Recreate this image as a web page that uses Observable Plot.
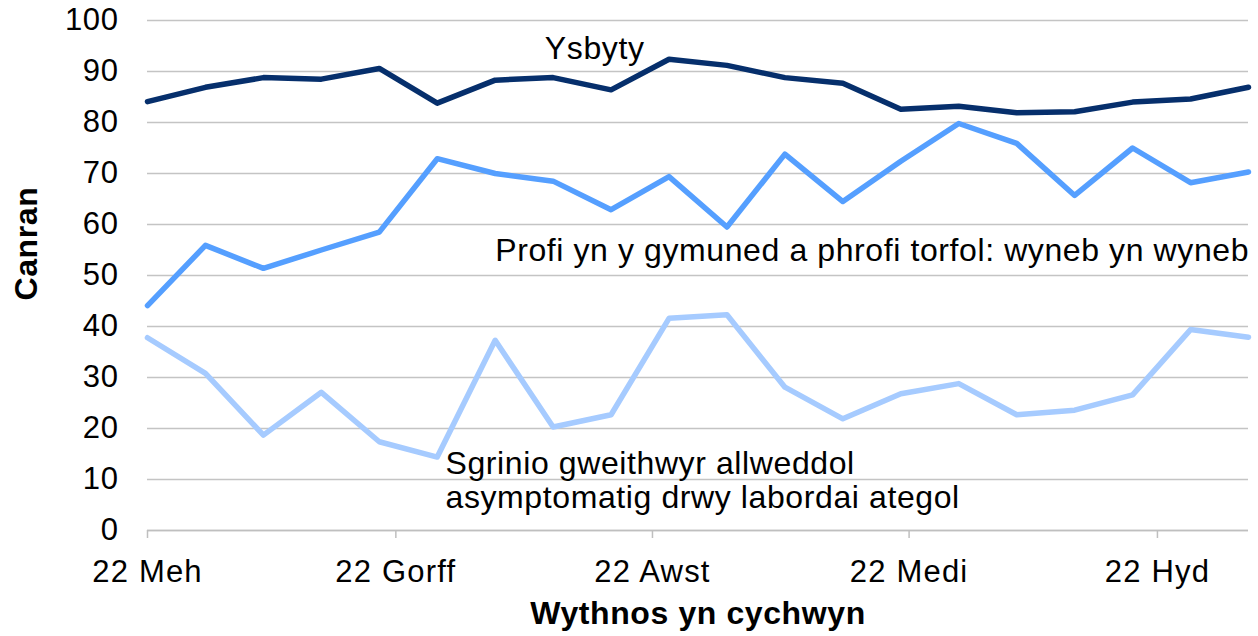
<!DOCTYPE html>
<html>
<head>
<meta charset="utf-8">
<script src="https://cdn.jsdelivr.net/npm/d3@7"></script>
<script src="https://cdn.jsdelivr.net/npm/@observablehq/plot@0.6"></script>
<style>
  html, body { margin: 0; padding: 0; background: #fff; }
  svg text { letter-spacing: 0.6px; }
  svg g[aria-label="x-axis tick label"] text { letter-spacing: 1.2px; }
</style>
</head>
<body>
<div id="chart"></div>
<script>
// Week starting dates
const dates = ["2020-06-22","2020-06-29","2020-07-06","2020-07-13","2020-07-20","2020-07-27",
  "2020-08-03","2020-08-10","2020-08-17","2020-08-24","2020-08-31","2020-09-07","2020-09-14",
  "2020-09-21","2020-09-28","2020-10-05","2020-10-12","2020-10-19","2020-10-26","2020-11-02"];

// Series values (per cent)
const ysbyty = [84.1, 86.9, 88.8, 88.5, 90.6, 83.8, 88.3, 88.8, 86.4, 92.4,
  91.2, 88.8, 87.7, 82.6, 83.2, 81.9, 82.1, 84.0, 84.6, 86.9];
const profi = [44.1, 55.9, 51.4, 55.0, 58.5, 72.9, 70.0, 68.5, 62.9, 69.4,
  59.5, 73.8, 64.5, 72.4, 79.8, 75.9, 65.7, 75.0, 68.2, 70.3];
const sgrinio = [37.8, 30.8, 18.7, 27.1, 17.4, 14.4, 37.3, 20.3, 22.7, 41.6,
  42.3, 28.1, 21.9, 26.8, 28.8, 22.7, 23.6, 26.6, 39.4, 37.9];

// Axis ticks
const yTicks = [0, 10, 20, 30, 40, 50, 60, 70, 80, 90, 100];
const xTickDates = ["2020-06-22", "2020-07-22", "2020-08-22", "2020-09-22", "2020-10-22"];
const xTickLabels = ["22 Meh", "22 Gorff", "22 Awst", "22 Medi", "22 Hyd"];

// Titles
const yTitle = "Canran";
const xTitle = "Wythnos yn cychwyn";

// Series labels (annotation anchor in data units)
const seriesLabels = [
  {text: "Ysbyty", date: "2020-08-09", value: 94.5},
  {text: "Profi yn y gymuned a phrofi torfol: wyneb yn wyneb", date: "2020-08-03", value: 54.9},
  {text: "Sgrinio gweithwyr allweddol", date: "2020-07-28", value: 13.1},
  {text: "asymptomatig drwy labordai ategol", date: "2020-07-28", value: 6.5}
];

const parse = d3.utcParse("%Y-%m-%d");
const toRows = vals => dates.map((d, i) => ({date: parse(d), value: vals[i]}));
const labelMap = new Map(xTickDates.map((d, i) => [d, xTickLabels[i]]));
const fmt = d3.utcFormat("%Y-%m-%d");

const chart = Plot.plot({
  width: 1258,
  height: 636,
  marginLeft: 147,
  marginRight: 10,
  marginTop: 20,
  marginBottom: 106,
  style: {fontFamily: "'Liberation Sans', Arial, sans-serif", fontSize: "31px", color: "#000", background: "#fff"},
  x: {type: "utc", domain: [parse(dates[0]), parse(dates[dates.length - 1])]},
  y: {domain: [0, 100]},
  marks: [
    Plot.gridY(yTicks, {stroke: "#c4c4c4", strokeOpacity: 1, strokeWidth: 1.5}),
    Plot.ruleY([0], {stroke: "#bfbfbf", strokeWidth: 1.5}),
    Plot.axisY(yTicks, {tickSize: 0, tickPadding: 29, label: null, fontSize: 31}),
    Plot.axisX(xTickDates.map(parse), {
      tickFormat: d => labelMap.get(fmt(d)),
      tickSize: 8, tickPadding: 21, stroke: "#bfbfbf", strokeWidth: 1.5, label: null, fontSize: 31
    }),
    Plot.text([yTitle], {frameAnchor: "left", dx: -121, dy: 25, rotate: -90, fontWeight: "bold", fontSize: 32}),
    Plot.text([xTitle], {frameAnchor: "bottom", dy: 93, fontWeight: "bold", fontSize: 32}),
    Plot.line(toRows(sgrinio), {x: "date", y: "value", stroke: "#a6cbff", strokeWidth: 5.5, strokeLinejoin: "round"}),
    Plot.line(toRows(profi), {x: "date", y: "value", stroke: "#559fff", strokeWidth: 5.5, strokeLinejoin: "round"}),
    Plot.line(toRows(ysbyty), {x: "date", y: "value", stroke: "#062f6c", strokeWidth: 5.5, strokeLinejoin: "round"}),
    Plot.text(seriesLabels, {x: d => parse(d.date), y: "value", text: "text", textAnchor: "start", fontSize: 32, fill: "#000"})
  ]
});
document.getElementById("chart").appendChild(chart);
</script>
</body>
</html>
